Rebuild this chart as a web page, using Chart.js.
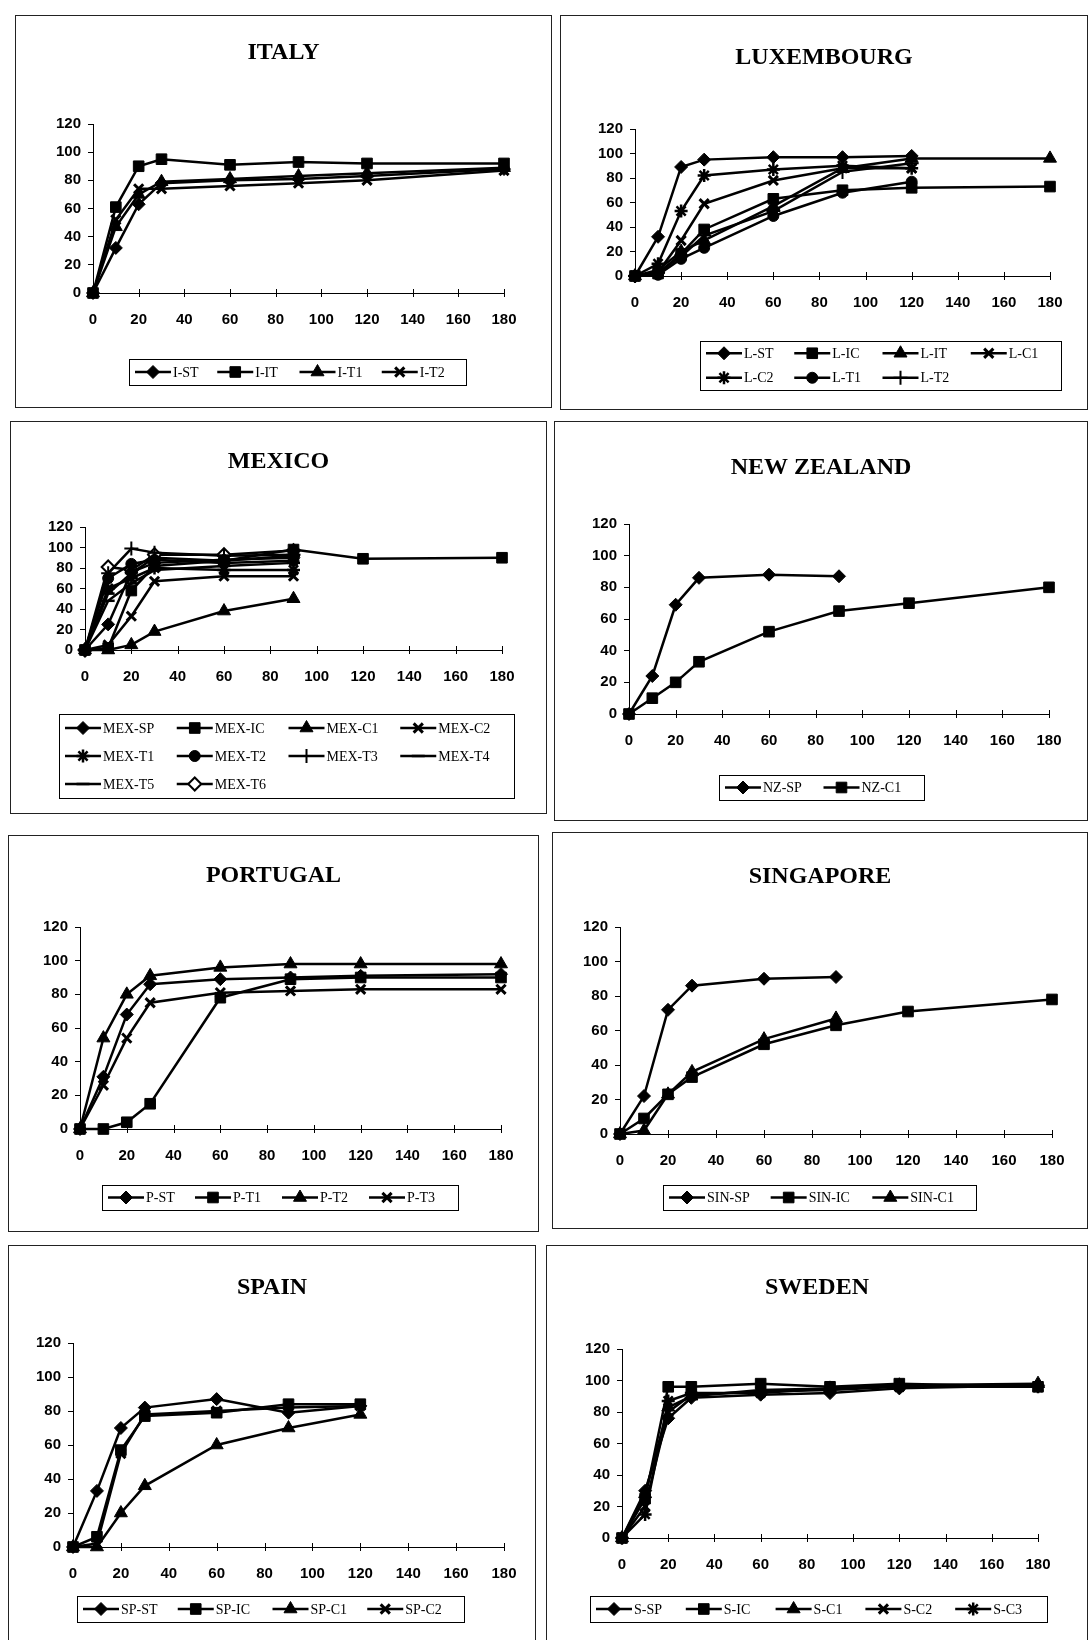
<!DOCTYPE html>
<html>
<head>
<meta charset="utf-8">
<script src="https://cdn.jsdelivr.net/npm/chart.js@4.4.0/dist/chart.umd.min.js"></script>
<style>
html, body { margin: 0; padding: 0; background: #fff; overflow: hidden; }
#page { position: relative; width: 1090px; height: 1640px; }
.panel { position: absolute; border: 1px solid #222; box-sizing: border-box; background: #fff; }
.panel canvas { position: absolute; left: 0; top: 0; }
</style>
</head>
<body>
<div id="page"></div>
<script>
// time axis (minutes) and percentage axis
const xTickValues = [0, 20, 40, 60, 80, 100, 120, 140, 160, 180];
const yTickValues = [0, 20, 40, 60, 80, 100, 120];
const xsStd = [0, 10, 20, 30, 60, 90, 120, 180];
const xsSpain = [0, 10, 20, 30, 60, 90, 120];

// ITALY
const itNames = ['I-ST', 'I-IT', 'I-T1', 'I-T2'];
const iST = [0, 32, 63, 78, 80, 81, 83, 88];
const iIT = [0, 61, 90, 95, 91, 93, 92, 92];
const iT1 = [0, 47, 70, 79, 81, 83, 85, 89];
const iT2 = [0, 52, 74, 74, 76, 78, 80, 87];

// LUXEMBOURG
const luNames = ['L-ST', 'L-IC', 'L-IT', 'L-C1', 'L-C2', 'L-T1', 'L-T2'];
const lST = [0, 32, 89, 95, 97, 97, 98];
const lIC = [0, 2, 18, 38, 63, 70, 72, 73];
const lIT = [0, 5, 20, 29, 57, 88, 96, 96];
const lC1 = [0, 3, 29, 59, 78, 88, 88];
const lC2 = [0, 10, 53, 82, 87, 90, 88];
const lT1 = [0, 1, 14, 23, 49, 68, 77];
const lT2 = [0, 3, 16, 33, 53, 85, 92];

// MEXICO
const mxNames = ['MEX-SP', 'MEX-IC', 'MEX-C1', 'MEX-C2', 'MEX-T1', 'MEX-T2', 'MEX-T3', 'MEX-T4', 'MEX-T5', 'MEX-T6'];
const mSP = [0, 25, 76, 85, 88, 90];
const mIC = [0, 2, 58, 82, 87, 98, 89, 90];
const mC1 = [0, 0, 5, 18, 38, 50];
const mC2 = [0, 5, 33, 67, 72, 72];
const mT1 = [0, 60, 70, 80, 78, 78];
const mT2 = [0, 70, 84, 88, 85, 87];
const mT3 = [0, 75, 99, 95, 92, 93];
const mT4 = [0, 55, 75, 90, 87, 92];
const mT5 = [0, 48, 65, 78, 82, 85];
const mT6 = [0, 81, 78, 93, 93, 97];

// NEW ZEALAND
const nzNames = ['NZ-SP', 'NZ-C1'];
const nSP = [0, 24, 69, 86, 88, 87];
const nC1 = [0, 10, 20, 33, 52, 65, 70, 80];

// PORTUGAL
const ptNames = ['P-ST', 'P-T1', 'P-T2', 'P-T3'];
const pST = [0, 31, 68, 86, 89, 90, 91, 92];
const pT1 = [0, 0, 4, 15, 78, 89, 90, 90];
const pT2 = [0, 54, 80, 91, 96, 98, 98, 98];
const pT3 = [0, 26, 54, 75, 81, 82, 83, 83];

// SINGAPORE
const sgNames = ['SIN-SP', 'SIN-IC', 'SIN-C1'];
const gSP = [0, 22, 72, 86, 90, 91];
const gIC = [0, 9, 23, 33, 52, 63, 71, 78];
const gC1 = [0, 2, 23, 36, 55, 67];

// SPAIN
const esNames = ['SP-ST', 'SP-IC', 'SP-C1', 'SP-C2'];
const eST = [0, 33, 70, 82, 87, 79, 83];
const eIC = [0, 6, 57, 77, 79, 84, 84];
const eC1 = [0, 0, 20, 36, 60, 70, 78];
const eC2 = [0, 2, 55, 78, 80, 82, 83];

// SWEDEN
const seNames = ['S-SP', 'S-IC', 'S-C1', 'S-C2', 'S-C3'];
const sSP = [0, 30, 76, 89, 91, 92, 95, 97];
const sIC = [0, 25, 96, 96, 98, 96, 98, 96];
const sC1 = [0, 28, 83, 90, 94, 95, 97, 98];
const sC2 = [0, 20, 80, 91, 93, 94, 96, 96];
const sC3 = [0, 15, 87, 92, 92, 95, 96, 96];

// marker looks (Excel-ish)
const MARK = {
  diamond:  { style: 'rectRot',  r: 6.5, fill: '#000', bw: 1 },
  square:   { style: 'rect',     r: 7.5, fill: '#000', bw: 1 },
  triangle: { style: 'triangle', r: 7.5, fill: '#000', bw: 1 },
  x:        { style: 'crossRot', r: 6.5, fill: '#000', bw: 3 },
  star:     { style: 'star',     r: 6.5, fill: '#000', bw: 2.5 },
  circle:   { style: 'circle',   r: 5.5, fill: '#000', bw: 1 },
  plus:     { style: 'cross',    r: 7,   fill: '#000', bw: 2 },
  dash:     { style: 'line',     r: 6.5, fill: '#000', bw: 2.5 },
  hdiamond: { style: 'rectRot',  r: 6.5, fill: '#fff', bw: 2 }
};

const panels = [
  { title: 'ITALY', x: 15, y: 15, w: 537, h: 393, axisL: 77, axisR: 488, top: 108, bottom: 277, titleY: 37,
    legend: { left: 113, top: 343, width: 337, height: 26, cols: 4 },
    xs: xsStd, names: itNames, series: [iST, iIT, iT1, iT2], marks: ['diamond', 'square', 'triangle', 'x'] },
  { title: 'LUXEMBOURG', x: 560, y: 15, w: 528, h: 395, axisL: 74, axisR: 489, top: 113, bottom: 260, titleY: 42,
    legend: { left: 139, top: 325, width: 361, height: 49, cols: 4 },
    xs: xsStd, names: luNames, series: [lST, lIC, lIT, lC1, lC2, lT1, lT2],
    marks: ['diamond', 'square', 'triangle', 'x', 'star', 'circle', 'plus'] },
  { title: 'MEXICO', x: 10, y: 421, w: 537, h: 393, axisL: 74, axisR: 491, top: 105, bottom: 228, titleY: 40,
    legend: { left: 48, top: 292, width: 455, height: 84, cols: 4 },
    xs: xsStd, names: mxNames, series: [mSP, mIC, mC1, mC2, mT1, mT2, mT3, mT4, mT5, mT6],
    marks: ['diamond', 'square', 'triangle', 'x', 'star', 'circle', 'plus', 'dash', 'dash', 'hdiamond'] },
  { title: 'NEW ZEALAND', x: 554, y: 421, w: 534, h: 400, axisL: 74, axisR: 494, top: 102, bottom: 292, titleY: 46,
    legend: { left: 164, top: 353, width: 205, height: 25, cols: 2 },
    xs: xsStd, names: nzNames, series: [nSP, nC1], marks: ['diamond', 'square'] },
  { title: 'PORTUGAL', x: 8, y: 835, w: 531, h: 397, axisL: 71, axisR: 492, top: 91, bottom: 293, titleY: 40,
    legend: { left: 93, top: 349, width: 356, height: 25, cols: 4 },
    xs: xsStd, names: ptNames, series: [pST, pT1, pT2, pT3], marks: ['diamond', 'square', 'triangle', 'x'] },
  { title: 'SINGAPORE', x: 552, y: 832, w: 536, h: 397, axisL: 67, axisR: 499, top: 94, bottom: 301, titleY: 44,
    legend: { left: 110, top: 352, width: 313, height: 25, cols: 3 },
    xs: xsStd, names: sgNames, series: [gSP, gIC, gC1], marks: ['diamond', 'square', 'triangle'] },
  { title: 'SPAIN', x: 8, y: 1245, w: 528, h: 410, axisL: 64, axisR: 495, top: 97, bottom: 301, titleY: 42,
    legend: { left: 68, top: 350, width: 387, height: 26, cols: 4 },
    xs: xsSpain, names: esNames, series: [eST, eIC, eC1, eC2], marks: ['diamond', 'square', 'triangle', 'x'] },
  { title: 'SWEDEN', x: 546, y: 1245, w: 542, h: 410, axisL: 75, axisR: 491, top: 103, bottom: 292, titleY: 42,
    legend: { left: 43, top: 350, width: 457, height: 26, cols: 5 },
    xs: xsStd, names: seNames, series: [sSP, sIC, sC1, sC2, sC3], marks: ['diamond', 'square', 'triangle', 'x', 'star'] }
];

// panel title, centred on the whole panel (not on the plot area)
const panelTitle = {
  id: 'panelTitle',
  afterDraw(chart, args, o) {
    const ctx = chart.ctx;
    ctx.save();
    ctx.fillStyle = '#000';
    ctx.font = 'bold 24px "Liberation Serif", "Times New Roman", serif';
    ctx.textAlign = 'center';
    ctx.textBaseline = 'middle';
    ctx.fillText(o.text, chart.width / 2, o.y);
    ctx.restore();
  }
};

// Excel style legend: boxed, line sample with marker, fixed columns
const boxLegend = {
  id: 'boxLegend',
  afterDraw(chart, args, o) {
    const ctx = chart.ctx;
    const items = chart.data.datasets;
    const rows = Math.ceil(items.length / o.cols);
    const colW = (o.width - 8) / o.cols, rowH = o.height / rows;
    ctx.save();
    ctx.strokeStyle = '#000';
    ctx.lineWidth = 1;
    ctx.strokeRect(o.left + 0.5, o.top + 0.5, o.width, o.height);
    ctx.font = '14px "Liberation Serif"';
    ctx.textBaseline = 'middle';
    items.forEach((ds, i) => {
      const c = i % o.cols, r = Math.floor(i / o.cols);
      const x = o.left + 6 + c * colW, y = o.top + rowH * (r + 0.5);
      ctx.strokeStyle = '#000';
      ctx.lineWidth = 2.5;
      ctx.beginPath(); ctx.moveTo(x, y); ctx.lineTo(x + 36, y); ctx.stroke();
      ctx.fillStyle = ds.pointBackgroundColor;
      ctx.lineWidth = ds.pointBorderWidth;
      Chart.helpers.drawPoint(ctx, { pointStyle: ds.pointStyle, radius: ds.pointRadius, rotation: 0, borderWidth: ds.pointBorderWidth }, x + 18, y);
      ctx.fillStyle = '#000';
      ctx.fillText(ds.label, x + 38, y + 1);
    });
    ctx.restore();
  }
};

// x axis ticks cross the axis line
const crossTicks = {
  id: 'crossTicks',
  beforeDatasetsDraw(chart) {
    const s = chart.scales.x, y0 = chart.chartArea.bottom, ctx = chart.ctx;
    ctx.save();
    ctx.strokeStyle = '#000';
    ctx.lineWidth = 1;
    s.ticks.forEach(t => {
      const px = Math.round(s.getPixelForValue(t.value)) + 0.5;
      ctx.beginPath(); ctx.moveTo(px, y0 - 4); ctx.lineTo(px, y0 + 4); ctx.stroke();
    });
    ctx.restore();
  }
};

const tickFont = { family: '"Liberation Sans", Arial, sans-serif', size: 15, weight: 'bold' };
const page = document.getElementById('page');

panels.forEach(p => {
  const div = document.createElement('div');
  div.className = 'panel';
  Object.assign(div.style, { left: p.x + 'px', top: p.y + 'px', width: p.w + 'px', height: p.h + 'px' });
  const cv = document.createElement('canvas');
  const W = p.w - 2, H = p.h - 2;
  cv.width = W; cv.height = H;
  cv.style.width = W + 'px'; cv.style.height = H + 'px';
  div.appendChild(cv);
  page.appendChild(div);

  const datasets = p.series.map((ys, i) => {
    const m = MARK[p.marks[i]];
    return {
      label: p.names[i],
      data: ys.map((v, k) => ({ x: p.xs[k], y: v })),
      borderColor: '#000', borderWidth: 2.5, backgroundColor: '#000',
      pointStyle: m.style, pointRadius: m.r, pointBackgroundColor: m.fill,
      pointBorderColor: '#000', pointBorderWidth: m.bw,
      tension: 0, fill: false, clip: false
    };
  });

  new Chart(cv, {
    type: 'line',
    data: { datasets },
    plugins: [crossTicks, boxLegend, panelTitle],
    options: {
      responsive: false,
      animation: false,
      layout: { padding: { left: 0, top: p.top, bottom: 0, right: W - p.axisR } },
      plugins: {
        legend: { display: false },
        tooltip: { enabled: false },
        title: { display: false },
        panelTitle: { text: p.title, y: p.titleY },
        boxLegend: p.legend
      },
      scales: {
        x: {
          type: 'linear', min: 0, max: 180,
          afterBuildTicks: s => { s.ticks = xTickValues.map(v => ({ value: v })); },
          afterFit: s => { s.height = H - p.bottom; },
          grid: { display: false, drawTicks: false },
          border: { color: '#000', width: 1 },
          ticks: { color: '#000', font: tickFont, padding: 18, maxRotation: 0, autoSkip: false }
        },
        y: {
          min: 0, max: 120,
          afterBuildTicks: s => { s.ticks = yTickValues.map(v => ({ value: v })); },
          afterFit: s => { s.width = p.axisL; },
          grid: { drawOnChartArea: false, drawTicks: true, tickLength: 5, color: '#000' },
          border: { color: '#000', width: 1 },
          ticks: { color: '#000', font: tickFont, padding: 7, autoSkip: false }
        }
      }
    }
  });
});
</script>
</body>
</html>
